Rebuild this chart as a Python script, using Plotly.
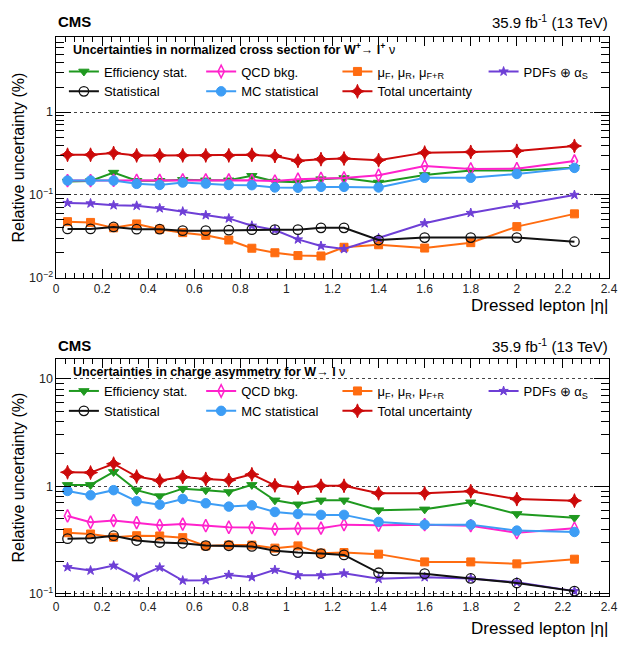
import plotly.graph_objects as go

# ---------------- data ----------------
eta = [0.05, 0.15, 0.25, 0.35, 0.45, 0.55, 0.65, 0.75, 0.85, 0.95,
       1.05, 1.15, 1.25, 1.4, 1.6, 1.8, 2.0, 2.25]

# top panel: normalized cross section W+ -> l+ nu  (%)
eff_top = [0.145, 0.147, 0.186, 0.148, 0.148, 0.152, 0.150, 0.150, 0.170, 0.145,
           0.142, 0.155, 0.160, 0.141, 0.174, 0.197, 0.197, 0.213]
qcd_top = [0.149, 0.149, 0.150, 0.150, 0.150, 0.152, 0.152, 0.152, 0.150, 0.147,
           0.155, 0.158, 0.160, 0.173, 0.224, 0.206, 0.207, 0.257]
mu_top = [0.0475, 0.0465, 0.040, 0.0446, 0.0385, 0.035, 0.0325, 0.0285, 0.0227, 0.020,
          0.0185, 0.0183, 0.0233, 0.025, 0.0228, 0.0265, 0.0414, 0.059]
pdf_top = [0.080, 0.079, 0.075, 0.074, 0.069, 0.063, 0.057, 0.052, 0.0425, 0.0377,
           0.029, 0.0242, 0.0222, 0.030, 0.0455, 0.0606, 0.0757, 0.100]
stat_top = [0.0388, 0.0388, 0.041, 0.0385, 0.0385, 0.037, 0.037, 0.0375, 0.038, 0.038,
            0.038, 0.040, 0.040, 0.0285, 0.0305, 0.0305, 0.0305, 0.0272]
mc_top = [0.149, 0.149, 0.149, 0.136, 0.132, 0.141, 0.137, 0.132, 0.131, 0.123,
          0.122, 0.125, 0.125, 0.123, 0.161, 0.161, 0.179, 0.212]
tot_top = [0.305, 0.305, 0.320, 0.300, 0.300, 0.300, 0.300, 0.300, 0.305, 0.295,
           0.258, 0.270, 0.275, 0.263, 0.324, 0.330, 0.340, 0.390]

# bottom panel: charge asymmetry W -> l nu  (%)
eff_bot = [1.03, 1.03, 1.36, 0.92, 0.81, 0.95, 0.92, 0.885, 1.03, 0.74,
           0.68, 0.74, 0.74, 0.60, 0.61, 0.71, 0.553, 0.51]
qcd_bot = [0.53, 0.463, 0.48, 0.46, 0.434, 0.445, 0.43, 0.416, 0.413, 0.40,
           0.405, 0.408, 0.44, 0.435, 0.44, 0.43, 0.37, 0.407]
mu_bot = [0.37, 0.36, 0.336, 0.347, 0.345, 0.333, 0.279, 0.284, 0.284, 0.266,
          0.279, 0.239, 0.242, 0.234, 0.198, 0.198, 0.19, 0.21]
pdf_bot = [0.177, 0.165, 0.183, 0.142, 0.176, 0.133, 0.134, 0.15, 0.143, 0.167,
           0.149, 0.149, 0.155, 0.138, 0.143, 0.139, 0.128, 0.106]
stat_bot = [0.326, 0.328, 0.347, 0.313, 0.30, 0.295, 0.281, 0.28, 0.276, 0.252,
            0.242, 0.237, 0.23, 0.157, 0.154, 0.139, 0.126, 0.106]
mc_bot = [0.905, 0.825, 0.92, 0.726, 0.675, 0.762, 0.695, 0.647, 0.665, 0.577,
          0.553, 0.542, 0.542, 0.466, 0.44, 0.44, 0.387, 0.376]
tot_bot = [1.35, 1.34, 1.62, 1.23, 1.13, 1.22, 1.17, 1.14, 1.29, 1.02,
           0.97, 1.01, 1.01, 0.86, 0.86, 0.90, 0.76, 0.735]

names = ["Efficiency stat.", "QCD bkg.", "μ<sub>F</sub>, μ<sub>R</sub>, μ<sub>F+R</sub>",
         "PDFs ⊕ α<sub>S</sub>", "Statistical", "MC statistical", "Total uncertainty"]

# ---------------- styles ----------------
FONT = "Liberation Sans"
styles = [
    dict(color="#1f991f", symbol="triangle-down", size=9, lw=1),
    dict(color="#ff22cc", symbol="diamond-tall-open", size=9, lw=1.5),
    dict(color="#ff6c10", symbol="square", size=8, lw=1),
    dict(color="#6e3fd6", symbol="star", size=7, lw=1),
    dict(color="#111111", symbol="circle-open", size=9.5, lw=1.3),
    dict(color="#3d9df5", symbol="circle", size=9.5, lw=1),
    dict(color="#cc0a0a", symbol="star-diamond", size=10, lw=1),
]
col_of = [0, 1, 2, 3, 0, 1, 2]

W, H = 630, 645
L, R, T, B = 56, 14, 37, 49
pw, ph = W - L - R, H - T - B


def px_x(x):
    return (x - L) / pw


def px_y(y):
    return (H - B - y) / ph


top_dom = [px_y(277.7), 1.0]
bot_dom = [0.0, px_y(359)]

fig = go.Figure()

series_top = [eff_top, qcd_top, mu_top, pdf_top, stat_top, mc_top, tot_top]
series_bot = [eff_bot, qcd_bot, mu_bot, pdf_bot, stat_bot, mc_bot, tot_bot]

for panel, (series, xa, ya, loff) in enumerate(
        [(series_top, "x", "y", 0), (series_bot, "x2", "y2", 4)]):
    for i, (vals, st) in enumerate(zip(series, styles)):
        lg = "legend" if (loff + col_of[i]) == 0 else "legend%d" % (loff + col_of[i] + 1)
        fig.add_trace(go.Scatter(
            x=eta, y=vals, mode="lines+markers", name=names[i],
            xaxis=xa, yaxis=ya, legend=lg,
            line=dict(color=st["color"], width=2),
            marker=dict(symbol=st["symbol"], size=st["size"], color=st["color"],
                        line=dict(color=st["color"], width=st["lw"])),
            showlegend=True,
        ))


def xax(anchor):
    return dict(domain=[0, 1], anchor=anchor, range=[0, 2.4], showline=True,
                linecolor="black", mirror="ticks", ticks="inside", ticklen=9,
                tickcolor="black", tickwidth=1, tickmode="linear", tick0=0, dtick=0.2,
                showgrid=False, zeroline=False,
                tickfont=dict(family=FONT, size=12, color="#222"),
                minor=dict(ticks="inside", ticklen=5, tickcolor="black", tickwidth=1,
                           dtick=0.04, tick0=0, showgrid=False))


def yax(anchor, dom, rng):
    return dict(domain=dom, anchor=anchor, type="log", range=rng, showline=True,
                linecolor="black", mirror="ticks", ticks="inside", ticklen=15,
                tickcolor="black", tickwidth=1, dtick=1, exponentformat="power",
                showgrid=True, gridcolor="#444", griddash="dot", gridwidth=1,
                tickfont=dict(family=FONT, size=10, color="#222"),
                minor=dict(ticks="inside", ticklen=8, tickcolor="black", tickwidth=1,
                           dtick="D1", showgrid=False))


fig.update_layout(
    xaxis=xax("y"),
    yaxis=yax("x", top_dom, [-2, 0.907]),
    xaxis2=xax("y2"),
    yaxis2=yax("x2", bot_dom, [-1.02, 1.183]),
)

col_x = [69, 208, 346, 494]
legend_rows_top = [56.5, 376]
for p in range(2):
    for c in range(4):
        idx = p * 4 + c
        key = "legend" if idx == 0 else "legend%d" % (idx + 1)
        fig.update_layout(**{key: dict(
            x=px_x(col_x[c] - 5), y=px_y(legend_rows_top[p]), xanchor="left", yanchor="top",
            orientation="v", bgcolor="rgba(0,0,0,0)", borderwidth=0,
            font=dict(family=FONT, size=13, color="black"),
            itemwidth=30, tracegroupgap=0,
        )})

ann = []
for p, (ytxt, ytitle_c, yx, title) in enumerate([
        (22, 157, 305, "<b>Uncertainties in normalized cross section for W<sup>+</sup></b>→ <b>l<sup>+</sup></b> ν"),
        (345, 477, 628, "<b>Uncertainties in charge asymmetry for W</b>→ <b>l</b> ν")]):
    ann.append(dict(text="<b>CMS</b>", x=px_x(56), y=px_y(ytxt), xref="paper", yref="paper",
                    xanchor="left", yanchor="middle", showarrow=False,
                    font=dict(family=FONT, size=15, color="black")))
    ann.append(dict(text="35.9 fb<sup>-1</sup> (13 TeV)", x=px_x(617), y=px_y(ytxt),
                    xref="paper", yref="paper", xanchor="right", yanchor="middle",
                    showarrow=False, font=dict(family=FONT, size=15, color="black")))
    ann.append(dict(text=title, x=px_x(71), y=px_y(ytxt + 27), xref="paper", yref="paper",
                    xanchor="left", yanchor="middle", showarrow=False,
                    font=dict(family=FONT, size=12.5, color="black")))
    ann.append(dict(text="Relative uncertainty (%)", x=px_x(18), y=px_y(ytitle_c),
                    xref="paper", yref="paper", xanchor="center", yanchor="middle",
                    textangle=-90, showarrow=False,
                    font=dict(family=FONT, size=16, color="black")))
    ann.append(dict(text="Dressed lepton |η|", x=px_x(617), y=px_y(yx), xref="paper",
                    yref="paper", xanchor="right", yanchor="middle", showarrow=False,
                    font=dict(family=FONT, size=17, color="black")))

fig.update_layout(
    width=W, height=H, margin=dict(l=L, r=R, t=T, b=B),
    paper_bgcolor="white", plot_bgcolor="white",
    annotations=ann,
)

fig.write_html("out.html")
